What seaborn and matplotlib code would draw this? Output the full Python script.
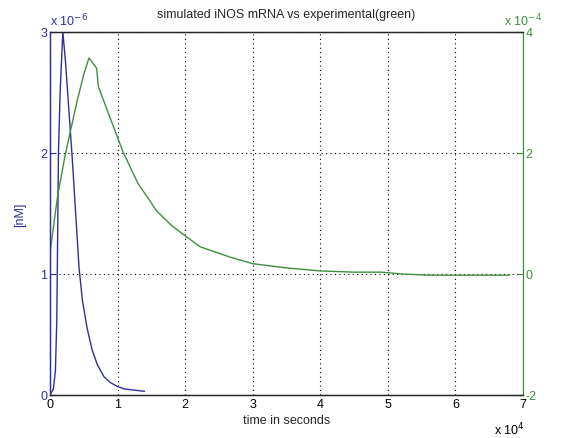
import numpy as np
import pandas as pd
import matplotlib
matplotlib.use("Agg")
import matplotlib.pyplot as plt
import seaborn as sns

# simulated iNOS mRNA (left axis, nM)
sim_time = [0, 500, 800, 1000, 1150, 1250, 1500, 1900, 2300, 2800, 3300, 3800,
            4300, 4800, 5500, 6200, 7000, 8000, 9000, 10000, 11000, 12500, 14000]
sim_nm = [0.0, 0.05, 0.2, 0.6, 1.4, 2.0, 2.5, 3.0, 2.75, 2.35, 1.95, 1.5,
          1.05, 0.78, 0.55, 0.38, 0.25, 0.15, 0.1, 0.07, 0.05, 0.04, 0.03]
sim_nm = [v * 1e-6 for v in sim_nm]

# experimental (right axis)
exp_time = [0, 1140, 2220, 3000, 4000, 5000, 5770, 6900, 7150, 9000, 10800,
            13000, 15800, 18000, 20000, 22200, 26600, 30000, 35000, 40000,
            45000, 49000, 52000, 56000, 62000, 68000]
exp_val = [0.35, 1.3, 1.95, 2.35, 2.85, 3.3, 3.57, 3.4, 3.1, 2.55, 2.02,
           1.5, 1.04, 0.8, 0.63, 0.45, 0.28, 0.17, 0.1, 0.05,
           0.03, 0.03, 0.0, -0.02, -0.02, -0.02]
exp_val = [v * 1e-4 for v in exp_val]

x_ticks = [0, 1, 2, 3, 4, 5, 6, 7]
left_ticks = [0, 1, 2, 3]
right_ticks = [-2, 0, 2, 4]

blue = "#30309c"
green = "#3f8f3f"

sns.set_style("white")
plt.rcParams["font.family"] = ["Liberation Sans", "DejaVu Sans"]
plt.rcParams["font.size"] = 9

fig = plt.figure(figsize=(5.63, 4.39), dpi=100)
ax = fig.add_axes([0.0888, 0.098, 0.8402, 0.827])
ax2 = ax.twinx()

sim_df = pd.DataFrame({"t": sim_time, "v": sim_nm})
exp_df = pd.DataFrame({"t": exp_time, "v": exp_val})

sns.lineplot(data=sim_df, x="t", y="v", color=blue, lw=1, ax=ax)
sns.lineplot(data=exp_df, x="t", y="v", color=green, lw=1, ax=ax2)

ax.set_xlim(0, 7e4)
ax.set_ylim(0, 3e-6)
ax2.set_ylim(-2e-4, 4e-4)

ax.set_xticks([v * 1e4 for v in x_ticks])
ax.set_xticklabels([str(v) for v in x_ticks])
ax.set_yticks([v * 1e-6 for v in left_ticks])
ax.set_yticklabels([str(v) for v in left_ticks])
ax2.set_yticks([v * 1e-4 for v in right_ticks])
ax2.set_yticklabels([str(v) for v in right_ticks])

ax.grid(True, ls=(0, (1, 3)), color="black", lw=0.8)
ax.tick_params(direction="in", length=4, pad=2, colors="black", labelsize=9)
ax.tick_params(axis="y", colors=blue)
ax2.tick_params(direction="in", length=4, pad=2, colors=green, labelsize=9)

for sp in ax.spines.values():
    sp.set_color("black")
    sp.set_linewidth(0.9)
ax.spines["left"].set_color(blue)
ax2.spines["right"].set_color(green)
ax2.spines["left"].set_color(blue)
for sp in ax2.spines.values():
    sp.set_linewidth(0.9)
ax.spines["right"].set_visible(False)

ax.set_title("simulated iNOS mRNA vs experimental(green)", fontsize=9, pad=11)
ax.set_xlabel("time in seconds", fontsize=9, labelpad=3)
ax.set_ylabel("[nM]", color=blue, fontsize=9, labelpad=10)
ax2.set_ylabel("")

ax.text(0.0, 1.01, r"x 10$^{-6}$", transform=ax.transAxes, color=blue,
        fontsize=9, ha="left", va="bottom")
ax2.text(1.0, 1.01, r"x 10$^{-4}$", transform=ax2.transAxes, color=green,
         fontsize=9, ha="center", va="bottom")
ax.text(0.972, -0.094, r"x 10$^{4}$", transform=ax.transAxes, color="black",
        fontsize=9, ha="center", va="center")

fig.savefig("out.png", dpi=100)
